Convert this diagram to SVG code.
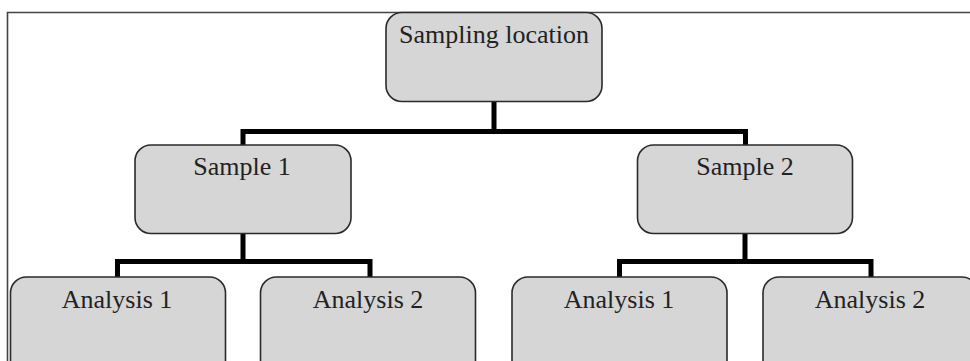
<svg xmlns="http://www.w3.org/2000/svg" width="970" height="361" viewBox="0 0 970 361">
<style>
.frame{fill:none;stroke:#444;stroke-width:1.6}
.box{fill:#d6d6d6;stroke:#2a2a2a;stroke-width:1.6}
.lbl{font-family:"Liberation Serif","Times New Roman",serif;font-size:26px;fill:#222;text-anchor:middle}
.conn{fill:none;stroke:#000;stroke-width:5;stroke-linejoin:miter}
</style>
<rect width="970" height="361" fill="#fff"/>
<path class="frame" d="M7.5,361 V12.5 H972"/>
<g id="connectors">
<path class="conn" d="M494,101 V131.5 M243,145 V131.5 H745.5 V145"/>
<path class="conn" d="M243,233 V261.5 M117.5,277 V261.5 H370 V277"/>
<path class="conn" d="M745,233 V261.5 M619.5,277 V261.5 H871 V277"/>
</g>
<g id="sampling-location">
<rect class="box" x="386" y="12.5" width="216" height="89" rx="16"/>
<text class="lbl" x="494" y="43">Sampling location</text>
</g>
<g id="sample-1">
<rect class="box" x="135" y="145" width="216" height="88.5" rx="16"/>
<text class="lbl" x="242" y="175">Sample 1</text>
</g>
<g id="sample-2">
<rect class="box" x="637.5" y="145" width="215" height="88.5" rx="16"/>
<text class="lbl" x="745" y="175">Sample 2</text>
</g>
<g id="s1-analysis-1">
<rect class="box" x="10.5" y="277" width="215" height="100" rx="16"/>
<text class="lbl" x="117" y="308">Analysis 1</text>
</g>
<g id="s1-analysis-2">
<rect class="box" x="260.5" y="277" width="215" height="100" rx="16"/>
<text class="lbl" x="368" y="308">Analysis 2</text>
</g>
<g id="s2-analysis-1">
<rect class="box" x="512" y="277" width="215" height="100" rx="16"/>
<text class="lbl" x="619" y="308">Analysis 1</text>
</g>
<g id="s2-analysis-2">
<rect class="box" x="763" y="277" width="215" height="100" rx="16"/>
<text class="lbl" x="870" y="308">Analysis 2</text>
</g>
</svg>
